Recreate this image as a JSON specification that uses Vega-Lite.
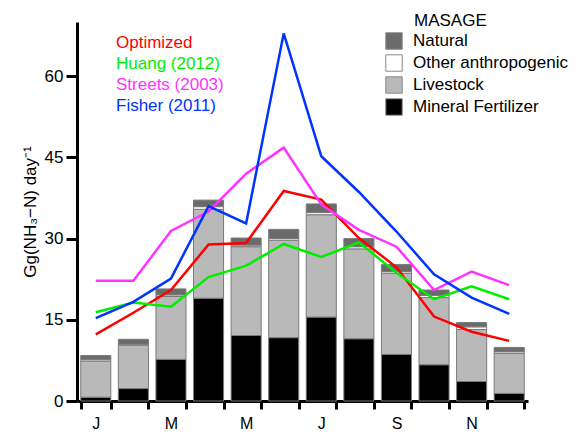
{
  "$schema": "https://vega.github.io/schema/vega-lite/v6.json",
  "width": 451,
  "height": 379,
  "autosize": {"type": "none"},
  "padding": {"left": 77, "top": 22, "right": 53, "bottom": 31},
  "background": "white",
  "config": {"font": "Liberation Sans", "view": {"stroke": null}, "axis": {"grid": false}},
  "datasets": {
    "bars": [
      {"month": "Jan", "source": "Mineral Fertilizer", "value": 0.7},
      {"month": "Jan", "source": "Livestock", "value": 6.7},
      {"month": "Jan", "source": "Other anthropogenic", "value": 0.3},
      {"month": "Jan", "source": "Natural", "value": 0.7},
      {"month": "Feb", "source": "Mineral Fertilizer", "value": 2.3},
      {"month": "Feb", "source": "Livestock", "value": 8.0},
      {"month": "Feb", "source": "Other anthropogenic", "value": 0.2},
      {"month": "Feb", "source": "Natural", "value": 0.9},
      {"month": "Mar", "source": "Mineral Fertilizer", "value": 7.7},
      {"month": "Mar", "source": "Livestock", "value": 11.6},
      {"month": "Mar", "source": "Other anthropogenic", "value": 0.3},
      {"month": "Mar", "source": "Natural", "value": 1.1},
      {"month": "Apr", "source": "Mineral Fertilizer", "value": 19.0},
      {"month": "Apr", "source": "Livestock", "value": 16.4},
      {"month": "Apr", "source": "Other anthropogenic", "value": 0.5},
      {"month": "Apr", "source": "Natural", "value": 1.2},
      {"month": "May", "source": "Mineral Fertilizer", "value": 12.1},
      {"month": "May", "source": "Livestock", "value": 16.4},
      {"month": "May", "source": "Other anthropogenic", "value": 0.3},
      {"month": "May", "source": "Natural", "value": 1.3},
      {"month": "Jun", "source": "Mineral Fertilizer", "value": 11.7},
      {"month": "Jun", "source": "Livestock", "value": 18.0},
      {"month": "Jun", "source": "Other anthropogenic", "value": 0.3},
      {"month": "Jun", "source": "Natural", "value": 1.7},
      {"month": "Jul", "source": "Mineral Fertilizer", "value": 15.5},
      {"month": "Jul", "source": "Livestock", "value": 18.9},
      {"month": "Jul", "source": "Other anthropogenic", "value": 0.4},
      {"month": "Jul", "source": "Natural", "value": 1.6},
      {"month": "Aug", "source": "Mineral Fertilizer", "value": 11.5},
      {"month": "Aug", "source": "Livestock", "value": 16.6},
      {"month": "Aug", "source": "Other anthropogenic", "value": 0.4},
      {"month": "Aug", "source": "Natural", "value": 1.5},
      {"month": "Sep", "source": "Mineral Fertilizer", "value": 8.6},
      {"month": "Sep", "source": "Livestock", "value": 15.0},
      {"month": "Sep", "source": "Other anthropogenic", "value": 0.3},
      {"month": "Sep", "source": "Natural", "value": 1.3},
      {"month": "Oct", "source": "Mineral Fertilizer", "value": 6.7},
      {"month": "Oct", "source": "Livestock", "value": 12.4},
      {"month": "Oct", "source": "Other anthropogenic", "value": 0.4},
      {"month": "Oct", "source": "Natural", "value": 1.0},
      {"month": "Nov", "source": "Mineral Fertilizer", "value": 3.6},
      {"month": "Nov", "source": "Livestock", "value": 9.6},
      {"month": "Nov", "source": "Other anthropogenic", "value": 0.5},
      {"month": "Nov", "source": "Natural", "value": 0.8},
      {"month": "Dec", "source": "Mineral Fertilizer", "value": 1.4},
      {"month": "Dec", "source": "Livestock", "value": 7.4},
      {"month": "Dec", "source": "Other anthropogenic", "value": 0.3},
      {"month": "Dec", "source": "Natural", "value": 0.8}
    ],
    "lines": [
      {"month": "Jan", "model": "Optimized", "value": 12.3},
      {"month": "Feb", "model": "Optimized", "value": 16.3},
      {"month": "Mar", "model": "Optimized", "value": 20.5},
      {"month": "Apr", "model": "Optimized", "value": 28.9},
      {"month": "May", "model": "Optimized", "value": 29.2},
      {"month": "Jun", "model": "Optimized", "value": 38.8},
      {"month": "Jul", "model": "Optimized", "value": 37.2},
      {"month": "Aug", "model": "Optimized", "value": 30.1},
      {"month": "Sep", "model": "Optimized", "value": 24.7},
      {"month": "Oct", "model": "Optimized", "value": 15.6},
      {"month": "Nov", "model": "Optimized", "value": 12.8},
      {"month": "Dec", "model": "Optimized", "value": 11.1},
      {"month": "Jan", "model": "Huang (2012)", "value": 16.4},
      {"month": "Feb", "model": "Huang (2012)", "value": 18.2},
      {"month": "Mar", "model": "Huang (2012)", "value": 17.4},
      {"month": "Apr", "model": "Huang (2012)", "value": 22.9},
      {"month": "May", "model": "Huang (2012)", "value": 25.0},
      {"month": "Jun", "model": "Huang (2012)", "value": 29.0},
      {"month": "Jul", "model": "Huang (2012)", "value": 26.6},
      {"month": "Aug", "model": "Huang (2012)", "value": 29.3},
      {"month": "Sep", "model": "Huang (2012)", "value": 23.7},
      {"month": "Oct", "model": "Huang (2012)", "value": 18.8},
      {"month": "Nov", "model": "Huang (2012)", "value": 21.2},
      {"month": "Dec", "model": "Huang (2012)", "value": 18.8},
      {"month": "Jan", "model": "Streets (2003)", "value": 22.2},
      {"month": "Feb", "model": "Streets (2003)", "value": 22.2},
      {"month": "Mar", "model": "Streets (2003)", "value": 31.4},
      {"month": "Apr", "model": "Streets (2003)", "value": 35.0},
      {"month": "May", "model": "Streets (2003)", "value": 42.0},
      {"month": "Jun", "model": "Streets (2003)", "value": 46.8},
      {"month": "Jul", "model": "Streets (2003)", "value": 36.3},
      {"month": "Aug", "model": "Streets (2003)", "value": 31.6},
      {"month": "Sep", "model": "Streets (2003)", "value": 28.5},
      {"month": "Oct", "model": "Streets (2003)", "value": 20.5},
      {"month": "Nov", "model": "Streets (2003)", "value": 23.9},
      {"month": "Dec", "model": "Streets (2003)", "value": 21.4},
      {"month": "Jan", "model": "Fisher (2011)", "value": 15.3},
      {"month": "Feb", "model": "Fisher (2011)", "value": 18.3},
      {"month": "Mar", "model": "Fisher (2011)", "value": 22.6},
      {"month": "Apr", "model": "Fisher (2011)", "value": 36.0},
      {"month": "May", "model": "Fisher (2011)", "value": 32.8},
      {"month": "Jun", "model": "Fisher (2011)", "value": 67.9},
      {"month": "Jul", "model": "Fisher (2011)", "value": 45.2},
      {"month": "Aug", "model": "Fisher (2011)", "value": 38.6},
      {"month": "Sep", "model": "Fisher (2011)", "value": 31.3},
      {"month": "Oct", "model": "Fisher (2011)", "value": 23.4},
      {"month": "Nov", "model": "Fisher (2011)", "value": 19.1},
      {"month": "Dec", "model": "Fisher (2011)", "value": 16.1}
    ]
  },
  "encoding": {
    "x": {
      "field": "month",
      "type": "ordinal",
      "sort": ["Jan", "Feb", "Mar", "Apr", "May", "Jun", "Jul", "Aug", "Sep", "Oct", "Nov", "Dec"],
      "scale": {"paddingInner": 0.2, "paddingOuter": 0.1},
      "axis": {
        "title": null,
        "tickBand": "extent",
        "labelAngle": 0,
        "labelExpr": "indexof(['Jan','Mar','May','Jul','Sep','Nov'], datum.value) >= 0 ? substring(datum.value, 0, 1) : ''",
        "labelFontSize": 16,
        "labelColor": "black",
        "labelPadding": 6,
        "domainColor": "black",
        "domainWidth": 3,
        "tickColor": "black",
        "tickWidth": 3,
        "tickSize": 8
      }
    }
  },
  "layer": [
    {
      "data": {"name": "bars"},
      "transform": [
        {"calculate": "indexof(['Mineral Fertilizer','Livestock','Other anthropogenic','Natural'], datum.source)", "as": "stack_rank"}
      ],
      "mark": {"type": "bar", "stroke": "#7a7a7a", "strokeWidth": 1},
      "encoding": {
        "y": {
          "field": "value",
          "type": "quantitative",
          "stack": "zero",
          "scale": {"domain": [0, 70], "nice": false},
          "axis": {
            "title": "Gg(NH₃−N)  day⁻¹",
            "titleFontSize": 17,
            "titleFontWeight": "normal",
            "titleColor": "black",
            "titlePadding": 5,
            "values": [0, 15, 30, 45, 60],
            "labelFontSize": 17,
            "labelColor": "black",
            "labelPadding": 3,
            "domainColor": "black",
            "domainWidth": 3,
            "tickColor": "black",
            "tickWidth": 3,
            "tickSize": 11
          }
        },
        "order": {"field": "stack_rank", "type": "quantitative", "sort": "ascending"},
        "color": {
          "field": "source",
          "type": "nominal",
          "scale": {
            "domain": ["Natural", "Other anthropogenic", "Livestock", "Mineral Fertilizer"],
            "range": ["#6b6b6b", "#ffffff", "#b9b9b9", "#000000"]
          },
          "legend": {
            "title": "MASAGE",
            "orient": "none",
            "legendX": 308,
            "legendY": -9,
            "titleFontSize": 17,
            "titleFontWeight": "normal",
            "titleColor": "black",
            "titlePadding": 2,
            "labelFontSize": 17,
            "labelColor": "black",
            "labelOffset": 10,
            "symbolType": "square",
            "symbolSize": 270,
            "symbolStrokeColor": "#888888",
            "symbolStrokeWidth": 1,
            "symbolOpacity": 1,
            "rowPadding": 0,
            "encode": {"title": {"update": {"dx": {"value": 29}}}}
          }
        }
      }
    },
    {
      "data": {"name": "lines"},
      "mark": {"type": "line", "strokeWidth": 2.5},
      "encoding": {
        "y": {"field": "value", "type": "quantitative"},
        "color": {
          "field": "model",
          "type": "nominal",
          "sort": ["Optimized", "Huang (2012)", "Streets (2003)", "Fisher (2011)"],
          "scale": {
            "domain": ["Optimized", "Huang (2012)", "Streets (2003)", "Fisher (2011)"],
            "range": ["#ff0000", "#00ee00", "#ff33ff", "#0033ff"]
          },
          "legend": {
            "title": null,
            "orient": "none",
            "legendX": 22,
            "legendY": 12,
            "labelFontSize": 17,
            "labelOffset": 0,
            "symbolSize": 0,
            "symbolOpacity": 0,
            "symbolStrokeWidth": 0,
            "rowPadding": 3,
            "encode": {
              "labels": {
                "update": {
                  "fill": {"signal": "datum.label == 'Optimized' ? '#ff0000' : datum.label == 'Huang (2012)' ? '#00ee00' : datum.label == 'Streets (2003)' ? '#ff33ff' : '#0033ff'"}
                }
              }
            }
          }
        }
      }
    }
  ],
  "resolve": {"scale": {"color": "independent"}, "legend": {"color": "independent"}}
}
